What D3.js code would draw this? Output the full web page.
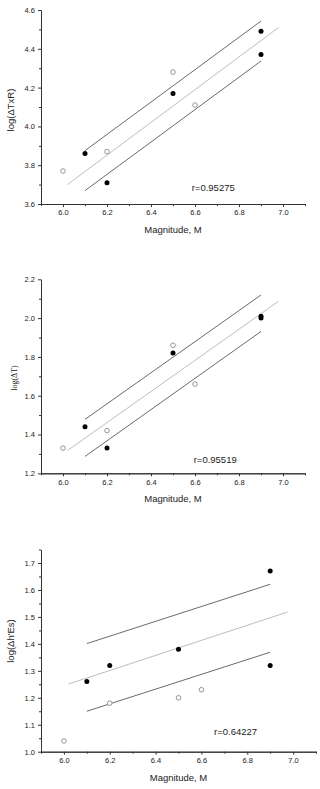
<!DOCTYPE html>
<html><head><meta charset="utf-8">
<script src="https://cdn.jsdelivr.net/npm/d3@7"></script>
<style>
html,body{margin:0;padding:0;background:#fff;}
svg{display:block;}
text{font-family:"Liberation Sans",Arial,sans-serif;fill:#222;}
</style></head>
<body>
<svg id="c" width="320" height="789"></svg>
<script>
// ---- data ----
const xTickValues = [6.0, 6.2, 6.4, 6.6, 6.8, 7.0];
const xMinorValues = [5.9, 6.1, 6.3, 6.5, 6.7, 6.9, 7.1];
const xTitle = "Magnitude, M";

// Panel 1: log(ΔTxR)
const p1Label = "log(\u0394TxR)";
const p1R = "r=0.95275";
const p1FilledX = [6.1, 6.2, 6.5, 6.9, 6.9];
const p1FilledY = [3.86, 3.71, 4.17, 4.49, 4.37];
const p1OpenX = [6.0, 6.2, 6.5, 6.6];
const p1OpenY = [3.77, 3.87, 4.28, 4.11];
const p1FitX = [6.02, 6.98];
const p1FitY = [3.70, 4.51];
const p1UpperX = [6.1, 6.9];
const p1UpperY = [3.875, 4.543];
const p1LowerX = [6.1, 6.9];
const p1LowerY = [3.669, 4.337];
const p1YTicks = [3.6, 3.8, 4.0, 4.2, 4.4, 4.6];
const p1YMinor = [3.7, 3.9, 4.1, 4.3, 4.5];

// Panel 2: log(ΔT)
const p2Label = "log(\u0394T)";
const p2R = "r=0.95519";
const p2FilledX = [6.1, 6.2, 6.5, 6.9, 6.9];
const p2FilledY = [1.44, 1.33, 1.82, 2.01, 2.00];
const p2OpenX = [6.0, 6.2, 6.5, 6.6];
const p2OpenY = [1.33, 1.42, 1.86, 1.66];
const p2FitX = [6.02, 6.98];
const p2FitY = [1.317, 2.087];
const p2UpperX = [6.1, 6.9];
const p2UpperY = [1.478, 2.119];
const p2LowerX = [6.1, 6.9];
const p2LowerY = [1.287, 1.931];
const p2YTicks = [1.2, 1.4, 1.6, 1.8, 2.0, 2.2];
const p2YMinor = [1.3, 1.5, 1.7, 1.9, 2.1];

// Panel 3: log(Δh'Es)
const p3Label = "log(\u0394h'Es)";
const p3R = "r=0.64227";
const p3FilledX = [6.1, 6.2, 6.5, 6.9, 6.9];
const p3FilledY = [1.26, 1.32, 1.38, 1.67, 1.32];
const p3OpenX = [6.0, 6.2, 6.5, 6.6];
const p3OpenY = [1.04, 1.18, 1.20, 1.23];
const p3FitX = [6.02, 6.976];
const p3FitY = [1.251, 1.518];
const p3UpperX = [6.1, 6.9];
const p3UpperY = [1.401, 1.621];
const p3LowerX = [6.1, 6.9];
const p3LowerY = [1.150, 1.369];
const p3YTicks = [1.0, 1.1, 1.2, 1.3, 1.4, 1.5, 1.6, 1.7];
const p3YMinor = [1.05, 1.15, 1.25, 1.35, 1.45, 1.55, 1.65, 1.75];

// ---- drawing ----
const svg = d3.select("#c");
const zip = (xs, ys) => xs.map((x, i) => [x, ys[i]]);

function panel(cfg) {
  const x = d3.scaleLinear().domain([5.9, 7.1]).range([cfg.l, cfg.r]);
  const y = d3.scaleLinear().domain(cfg.yDomain).range([cfg.b, cfg.t]);
  const g = svg.append("g");
  const fmt = d3.format(".1f");

  // x axis
  const xa = g.append("g").attr("transform", `translate(0,${cfg.b})`)
    .call(d3.axisBottom(x).tickValues(xTickValues).tickFormat(fmt).tickSize(3).tickSizeOuter(0).tickPadding(3));
  g.append("g").attr("transform", `translate(0,${cfg.b})`)
    .call(d3.axisBottom(x).tickValues(xMinorValues).tickFormat("").tickSize(2).tickSizeOuter(0));
  // y axis
  const ya = g.append("g").attr("transform", `translate(${cfg.l},0)`)
    .call(d3.axisLeft(y).tickValues(cfg.yTicks).tickFormat(fmt).tickSize(3).tickSizeOuter(0).tickPadding(3));
  g.append("g").attr("transform", `translate(${cfg.l},0)`)
    .call(d3.axisLeft(y).tickValues(cfg.yMinor).tickFormat("").tickSize(2).tickSizeOuter(0));
  g.selectAll(".domain, .tick line").attr("stroke", "#333").attr("stroke-width", 1);
  g.selectAll(".tick text").attr("font-size", 7.5).attr("fill", "#333")
    .attr("font-family", "'Liberation Sans',Arial,sans-serif");

  // titles
  g.append("text").attr("x", (x(5.9) + x(7.1)) / 2 + cfg.xtDx).attr("y", cfg.b + 29)
    .attr("text-anchor", "middle").attr("font-size", 9.5).text(xTitle);
  g.append("text").attr("transform", `translate(${cfg.ylx},${cfg.yly}) rotate(-90)`)
    .attr("text-anchor", "middle").attr("font-size", cfg.ylSize)
    .style("font-family", cfg.ylFont).text(cfg.label);

  // fit lines
  const line = d3.line().x(d => x(d[0])).y(d => y(d[1]));
  g.append("path").datum(zip(cfg.fitX, cfg.fitY)).attr("d", line)
    .attr("fill", "none").attr("stroke", "#bdbdbd").attr("stroke-width", 1);
  g.append("path").datum(zip(cfg.upX, cfg.upY)).attr("d", line)
    .attr("fill", "none").attr("stroke", "#6a6a6a").attr("stroke-width", 1);
  g.append("path").datum(zip(cfg.loX, cfg.loY)).attr("d", line)
    .attr("fill", "none").attr("stroke", "#6a6a6a").attr("stroke-width", 1);

  // points
  g.selectAll(".op").data(zip(cfg.openX, cfg.openY)).enter().append("circle")
    .attr("cx", d => x(d[0])).attr("cy", d => y(d[1])).attr("r", 2.3)
    .attr("fill", "#fff").attr("stroke", "#8a8a8a").attr("stroke-width", 0.9);
  g.selectAll(".fp").data(zip(cfg.filledX, cfg.filledY)).enter().append("circle")
    .attr("cx", d => x(d[0])).attr("cy", d => y(d[1])).attr("r", 2.5)
    .attr("fill", "#000");

  // r label
  g.append("text").attr("x", x(cfg.rx)).attr("y", y(cfg.ry))
    .attr("font-size", 9.5).text(cfg.rText);
}

panel({l: 41, r: 305, t: 10, b: 204, yDomain: [3.6, 4.6], yTicks: p1YTicks, yMinor: p1YMinor,
  label: p1Label, ylx: 14, yly: 110, ylSize: 9.5, ylFont: "'Liberation Sans',Arial,sans-serif", xtDx: 0,
  filledX: p1FilledX, filledY: p1FilledY, openX: p1OpenX, openY: p1OpenY,
  fitX: p1FitX, fitY: p1FitY, upX: p1UpperX, upY: p1UpperY, loX: p1LowerX, loY: p1LowerY,
  rText: p1R, rx: 6.585, ry: 3.668});

panel({l: 41, r: 305, t: 279.3, b: 473.3, yDomain: [1.2, 2.2], yTicks: p2YTicks, yMinor: p2YMinor,
  label: p2Label, ylx: 17, yly: 378, ylSize: 8, ylFont: "'Liberation Serif','Times New Roman',serif", xtDx: 0,
  filledX: p2FilledX, filledY: p2FilledY, openX: p2OpenX, openY: p2OpenY,
  fitX: p2FitX, fitY: p2FitY, upX: p2UpperX, upY: p2UpperY, loX: p2LowerX, loY: p2LowerY,
  rText: p2R, rx: 6.594, ry: 1.254});

panel({l: 41, r: 316, t: 549.5, b: 751.7, yDomain: [1.0, 1.75], yTicks: p3YTicks, yMinor: p3YMinor,
  label: p3Label, ylx: 14, yly: 641, ylSize: 9.5, ylFont: "'Liberation Sans',Arial,sans-serif", xtDx: 0,
  filledX: p3FilledX, filledY: p3FilledY, openX: p3OpenX, openY: p3OpenY,
  fitX: p3FitX, fitY: p3FitY, upX: p3UpperX, upY: p3UpperY, loX: p3LowerX, loY: p3LowerY,
  rText: p3R, rx: 6.655, ry: 1.063});
</script>
</body></html>
